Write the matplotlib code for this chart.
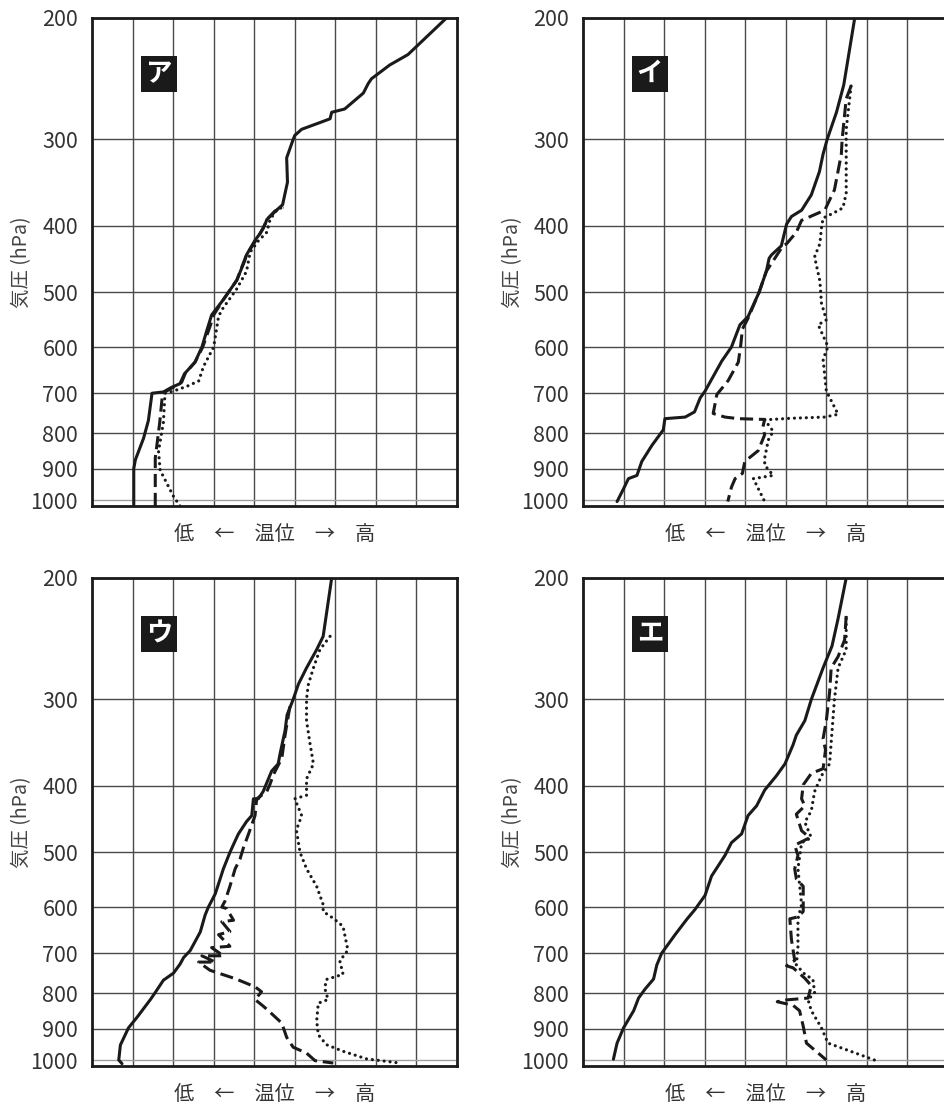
import matplotlib
matplotlib.use("Agg")
import matplotlib.pyplot as plt
from matplotlib.patches import Rectangle

plt.rcParams['font.family'] = ['Noto Sans CJK JP', 'DejaVu Sans']

# pressure levels (hPa) and tick labels
levels = [200, 300, 400, 500, 600, 700, 800, 900, 1000]
panel_names = ['ア', 'イ', 'ウ', 'エ']
xlabel = '低　←　温位　→　高'
ylabel = '気圧 (hPa)'

# theta in grid units (0..9)
# --- ア
a_solid_p = [200, 226, 234, 245, 249, 257, 271, 274, 280, 283, 290, 296, 300, 319, 346, 373, 380, 392, 398, 411,
             420, 441, 449, 480, 512, 539, 568, 600, 631, 656, 678, 686, 697, 700, 767, 814, 874, 900, 1020]
a_solid_t = [8.74, 7.79, 7.34, 6.89, 6.81, 6.69, 6.23, 5.91, 5.87, 5.66, 5.17, 5.00, 4.96, 4.80, 4.82, 4.70, 4.55, 4.31, 4.27, 4.14,
             4.02, 3.81, 3.77, 3.57, 3.24, 2.95, 2.83, 2.71, 2.54, 2.28, 2.17, 1.97, 1.76, 1.48, 1.39, 1.27, 1.07, 1.03, 1.03]
a_dash_p = [1020, 869, 772, 700, 690, 675, 655, 631, 600, 560, 539, 512, 480, 441, 422, 404, 392, 381, 376]
a_dash_t = [1.56, 1.56, 1.67, 1.74, 1.93, 2.21, 2.30, 2.54, 2.73, 2.91, 3.00, 3.24, 3.57, 3.81, 4.02, 4.22, 4.31, 4.51, 4.72]
a_dot_p = [1020, 988, 905, 849, 772, 700, 695, 684, 672, 640, 600, 542, 530, 494, 466, 437, 421, 409, 392, 380, 374]
a_dot_t = [2.17, 2.01, 1.68, 1.64, 1.76, 1.80, 2.01, 2.34, 2.63, 2.75, 3.00, 3.12, 3.20, 3.57, 3.81, 3.90, 4.10, 4.31, 4.39, 4.55, 4.78]

# --- イ
i_solid_p = [200, 250, 274, 300, 315, 334, 361, 380, 388, 398, 428, 441, 446, 466, 500, 542, 557, 600, 629, 695,
             711, 745, 758, 762, 791, 833, 879, 921, 931, 963, 1005]
i_solid_t = [6.70, 6.43, 6.25, 6.02, 5.92, 5.83, 5.63, 5.39, 5.14, 5.02, 4.89, 4.65, 4.59, 4.52, 4.34, 4.07, 3.87, 3.66, 3.42, 3.01,
             2.89, 2.75, 2.52, 2.02, 1.98, 1.70, 1.45, 1.33, 1.12, 1.00, 0.84]
i_dash_p = [251, 262, 300, 315, 355, 380, 393, 409, 425, 428, 466, 500, 545, 565, 596, 631, 671, 703, 749, 758,
            762, 764, 786, 804, 848, 879, 915, 931, 958, 1005]
i_dash_t = [6.61, 6.49, 6.39, 6.37, 6.20, 5.96, 5.39, 5.26, 5.02, 4.93, 4.52, 4.34, 4.07, 3.93, 3.89, 3.83, 3.58, 3.30, 3.21, 3.50,
            3.83, 4.48, 4.43, 4.48, 4.32, 3.99, 3.93, 3.75, 3.66, 3.57]
i_dot_p = [251, 290, 359, 377, 384, 390, 403, 425, 444, 481, 518, 548, 557, 599, 625, 695, 751, 758, 761, 765,
           795, 818, 869, 890, 921, 931, 1005]
i_dot_t = [6.61, 6.49, 6.49, 6.41, 6.16, 5.92, 5.88, 5.84, 5.71, 5.84, 5.88, 6.00, 5.80, 6.04, 5.92, 6.00, 6.29, 5.96, 5.14, 4.48,
           4.69, 4.57, 4.48, 4.48, 4.69, 4.20, 4.48]

# --- ウ
u_solid_p = [200, 243, 254, 270, 285, 300, 316, 333, 359, 372, 381, 408, 418, 418, 442, 451, 470, 481, 500, 528,
             574, 600, 616, 652, 694, 710, 726, 748, 766, 798, 817, 867, 898, 951, 1000, 1012]
u_solid_t = [5.91, 5.70, 5.54, 5.29, 5.09, 4.96, 4.81, 4.76, 4.64, 4.59, 4.43, 4.22, 4.10, 3.98, 3.94, 3.81, 3.61, 3.53, 3.40, 3.24,
             3.04, 2.87, 2.79, 2.67, 2.42, 2.26, 2.17, 2.01, 1.76, 1.56, 1.44, 1.11, 0.90, 0.70, 0.66, 0.74]
u_dash_p = [307, 338, 365, 386, 398, 408, 418, 442, 470, 493, 511, 528, 560, 588, 600, 603, 627, 630, 651, 658,
            684, 687, 706, 706, 721, 721, 741, 762, 783, 796, 817, 835, 848, 884, 927, 958, 977, 1002, 1010]
u_dash_t = [4.88, 4.76, 4.68, 4.47, 4.39, 4.31, 4.06, 4.02, 3.86, 3.73, 3.65, 3.53, 3.40, 3.28, 3.20, 3.32, 3.49, 3.20, 3.40, 3.12,
            3.40, 2.95, 3.24, 2.71, 3.04, 2.63, 2.91, 3.53, 4.02, 4.18, 4.02, 4.22, 4.35, 4.68, 4.80, 4.96, 5.29, 5.50, 5.95]
u_dot_p = [243, 254, 270, 286, 300, 322, 346, 372, 391, 413, 418, 442, 464, 500, 528, 560, 595, 609, 623, 640,
           693, 718, 751, 764, 787, 817, 827, 877, 919, 950, 971, 996, 1010]
u_dot_t = [5.87, 5.62, 5.46, 5.33, 5.29, 5.29, 5.37, 5.46, 5.29, 5.29, 5.00, 5.17, 5.04, 5.13, 5.29, 5.54, 5.70, 5.70, 5.95, 6.19,
           6.31, 6.11, 6.19, 5.78, 5.74, 5.82, 5.58, 5.54, 5.58, 5.78, 6.19, 6.77, 7.59]

# --- エ
e_solid_p = [200, 229, 251, 270, 300, 322, 338, 349, 372, 387, 406, 428, 442, 470, 484, 505, 541, 577, 605, 625,
             658, 700, 728, 763, 789, 813, 848, 898, 945, 997]
e_solid_t = [6.49, 6.29, 6.14, 5.92, 5.63, 5.47, 5.26, 5.18, 4.98, 4.77, 4.48, 4.28, 4.07, 3.91, 3.66, 3.50, 3.17, 3.01, 2.76, 2.56,
             2.27, 1.94, 1.82, 1.74, 1.53, 1.37, 1.25, 1.00, 0.84, 0.75]
e_dash_p = [227, 246, 260, 270, 293, 322, 342, 355, 378, 384, 399, 418, 428, 440, 465, 476, 488, 505, 528, 546,
            560, 609, 620, 624, 669, 717, 730, 735, 761, 780, 813, 818, 823, 833, 848, 893, 945, 977, 1000]
e_dash_t = [6.49, 6.45, 6.29, 6.12, 6.08, 6.00, 5.92, 5.98, 5.92, 5.63, 5.43, 5.39, 5.47, 5.26, 5.39, 5.59, 5.22, 5.30, 5.22, 5.26,
            5.43, 5.43, 5.30, 5.10, 5.14, 5.22, 5.02, 5.18, 5.47, 5.63, 5.55, 5.02, 4.79, 5.18, 5.34, 5.43, 5.51, 5.80, 6.00]
e_dot_p = [229, 254, 270, 300, 346, 372, 387, 408, 435, 452, 476, 484, 528, 595, 624, 686, 728, 751, 764, 798,
           818, 848, 898, 945, 964, 1000]
e_dot_t = [6.49, 6.49, 6.29, 6.20, 6.12, 6.08, 5.88, 5.71, 5.63, 5.47, 5.63, 5.39, 5.30, 5.39, 5.30, 5.30, 5.26, 5.47, 5.67, 5.71,
           5.55, 5.63, 5.88, 6.04, 6.45, 7.19]

panels = [
    (a_solid_t, a_solid_p, a_dash_t, a_dash_p, a_dot_t, a_dot_p),
    (i_solid_t, i_solid_p, i_dash_t, i_dash_p, i_dot_t, i_dot_p),
    (u_solid_t, u_solid_p, u_dash_t, u_dash_p, u_dot_t, u_dot_p),
    (e_solid_t, e_solid_p, e_dash_t, e_dash_p, e_dot_t, e_dot_p),
]

W, H = 944, 1104
fig = plt.figure(figsize=(W / 100, H / 100), dpi=100)

# panel placement in pixels (left, top); the right column runs past the figure edge
ax_w, ax_h = 365, 488
corners = [(92, 18), (583, 18), (92, 578), (583, 578)]

ink = '#1a1a1a'

for k, (left, top) in enumerate(corners):
    ax = fig.add_axes([left / W, 1 - (top + ax_h) / H, ax_w / W, ax_h / H])
    st, sp, dt, dp, ot, op = panels[k]

    ax.set_yscale('log')
    ax.set_ylim(1020, 200)
    ax.set_xlim(0, 9)
    ax.set_yticks(levels)
    ax.set_yticklabels([str(v) for v in levels])
    ax.yaxis.set_minor_locator(matplotlib.ticker.NullLocator())
    ax.set_xticks(range(1, 9))
    ax.set_xticklabels([])
    ax.tick_params(axis='both', length=0)
    ax.tick_params(axis='y', pad=10, labelsize=15.5, labelcolor='#333333')
    ax.set_axisbelow(True)
    ax.grid(True, color='#4a4a4a', linewidth=1.0)
    ax.yaxis.get_gridlines()[-1].set_color('#a0a0a0')
    for s in ax.spines.values():
        s.set_linewidth(2.0)
        s.set_color(ink)

    ax.plot(st, sp, color=ink, lw=2.2, solid_joinstyle='round', solid_capstyle='round')
    ax.plot(dt, dp, color=ink, lw=2.2, linestyle=(0, (4.3, 1.9)), dash_joinstyle='round')
    ax.plot(ot, op, color=ink, lw=2.3, linestyle=(0, (0.01, 1.85)), dash_capstyle='round')

    # panel tag
    ax.add_patch(Rectangle((0.134, 0.849), 0.099, 0.074, transform=ax.transAxes,
                           facecolor=ink, edgecolor='none', zorder=5))
    ax.text(0.1835, 0.886, panel_names[k], transform=ax.transAxes, ha='center', va='center',
            color='white', fontsize=19, fontweight='bold', zorder=6)

    ax.text(0.5, -29 / ax_h, xlabel, transform=ax.transAxes, ha='center', va='center',
            fontsize=14.5, color='#333333')
    ax.text((22 - 92) / ax_w, 0.5, ylabel, transform=ax.transAxes, ha='center', va='center',
            rotation=90, fontsize=14, color='#444444')

fig.savefig('out.png', dpi=100)
